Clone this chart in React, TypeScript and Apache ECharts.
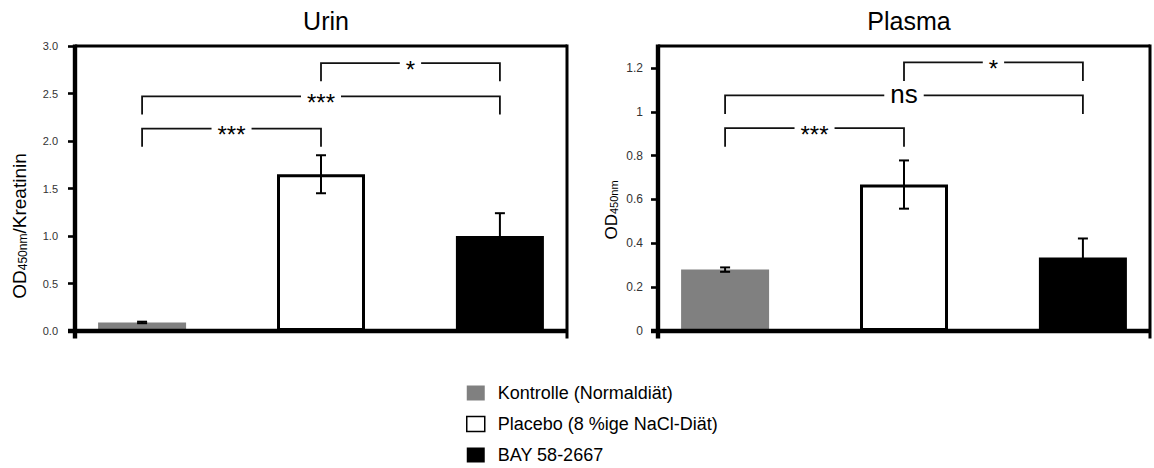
import React, { useEffect, useRef } from 'react';
import * as echarts from 'echarts';

const FONT = '"Liberation Sans", Arial, Helvetica, sans-serif';

const groups = ['Kontrolle (Normaldiät)', 'Placebo (8 %ige NaCl-Diät)', 'BAY 58-2667'];
const groupPositions = [0, 1, 2];

const urinMeans = [0.09, 1.65, 1.0];
const urinErrors = [0.008, 0.2, 0.24];
const urinTicks = [0, 0.5, 1, 1.5, 2, 2.5, 3];
const urinBrackets = [
  [0, 1, 2.13, 1.94],
  [0, 2, 2.47, 2.28],
  [1, 2, 2.82, 2.63],
];
const urinBracketLabels = ['***', '***', '*'];

const plasmaMeans = [0.28, 0.668, 0.335];
const plasmaErrors = [0.01, 0.11, 0.087];
const plasmaTicks = [0, 0.2, 0.4, 0.6, 0.8, 1, 1.2];
const plasmaBrackets = [
  [0, 1, 0.925, 0.84],
  [0, 2, 1.075, 0.99],
  [1, 2, 1.225, 1.14],
];
const plasmaBracketLabels = ['***', 'ns', '*'];

const X_MIN = -0.375;
const X_MAX = 2.375;

const barStyles = [
  { color: '#808080' },
  { color: '#ffffff', borderColor: '#000', borderWidth: 3 },
  { color: '#000000' },
];
const legendStyles = [
  { color: '#808080' },
  { color: '#ffffff', borderColor: '#000', borderWidth: 1.5 },
  { color: '#000000' },
];

function frameSeries(gi: number) {
  return {
    type: 'custom',
    xAxisIndex: gi,
    yAxisIndex: gi,
    z: 8,
    silent: true,
    data: [[0, 0]],
    renderItem: (params: any, api: any) => {
      const cs = params.coordSys;
      const x0 = cs.x;
      const y0 = cs.y;
      const x1 = cs.x + cs.width;
      const y1 = cs.y + cs.height;
      return {
        type: 'group',
        children: [
          { type: 'rect', shape: { x: x0, y: y0 - 1.5, width: x1 - x0, height: 3 }, style: { fill: '#000' } },
          { type: 'rect', shape: { x: x1 - 1.5, y: y0 - 1.5, width: 3, height: y1 - y0 + 9 }, style: { fill: '#000' } },
          { type: 'rect', shape: { x: x0 - 2.2, y: y0 - 1.5, width: 4.4, height: y1 - y0 + 9 }, style: { fill: '#000' } },
          { type: 'rect', shape: { x: x0 - 7, y: y1 - 2.2, width: x1 - x0 + 7, height: 4.4 }, style: { fill: '#000' } },
        ],
      };
    },
  };
}

function errorSeries(gi: number, means: number[], errs: number[]) {
  return {
    type: 'custom',
    xAxisIndex: gi,
    yAxisIndex: gi,
    z: 5,
    silent: true,
    data: groupPositions.map((p, i) => [p, means[i], errs[i]]),
    renderItem: (params: any, api: any) => {
      const x = api.value(0);
      const m = api.value(1);
      const e = api.value(2);
      const top = api.coord([x, m + e]);
      const bot = api.coord([x, m - e]);
      const hw = 5;
      const st = { stroke: '#000', lineWidth: 2, fill: null };
      return {
        type: 'group',
        children: [
          { type: 'line', shape: { x1: top[0], y1: top[1], x2: bot[0], y2: bot[1] }, style: st },
          { type: 'line', shape: { x1: top[0] - hw, y1: top[1], x2: top[0] + hw, y2: top[1] }, style: st },
          { type: 'line', shape: { x1: bot[0] - hw, y1: bot[1], x2: bot[0] + hw, y2: bot[1] }, style: st },
        ],
      };
    },
  };
}

function bracketSeries(gi: number, brackets: number[][], labels: string[]) {
  return {
    type: 'custom',
    xAxisIndex: gi,
    yAxisIndex: gi,
    z: 6,
    silent: true,
    data: brackets,
    renderItem: (params: any, api: any) => {
      const x1 = api.value(0);
      const x2 = api.value(1);
      const yl = api.value(2);
      const yg = api.value(3);
      const a = api.coord([x1, yg]);
      const b = api.coord([x1, yl]);
      const c = api.coord([x2, yl]);
      const d = api.coord([x2, yg]);
      const label = labels[params.dataIndex];
      const isNs = label === 'ns';
      const fs = isNs ? 26 : 24;
      const dy = isNs ? -1 : 6;
      return {
        type: 'group',
        children: [
          {
            type: 'polyline',
            shape: { points: [a, b, c, d] },
            style: { stroke: '#111', lineWidth: 1.8, fill: null },
          },
          {
            type: 'text',
            x: (b[0] + c[0]) / 2,
            y: b[1] + dy,
            style: {
              text: label,
              fontSize: fs,
              fontFamily: FONT,
              fill: '#000',
              textAlign: 'center',
              textVerticalAlign: 'middle',
              backgroundColor: '#fff',
              padding: [0, 6, 0, 6],
            },
          },
        ],
      };
    },
  };
}

function barSeries(gi: number, means: number[]) {
  return groups.map((name, i) => ({
    type: 'bar',
    name,
    xAxisIndex: gi,
    yAxisIndex: gi,
    barWidth: 88,
    barGap: '-100%',
    data: [[groupPositions[i], means[i]]],
    itemStyle: barStyles[i],
    z: 2,
  }));
}

function xAxis(gi: number) {
  return {
    type: 'value',
    gridIndex: gi,
    min: X_MIN,
    max: X_MAX,
    axisLine: { show: false, onZero: false },
    axisTick: { show: false },
    axisLabel: { show: false },
    splitLine: { show: false },
  };
}

function yAxis(gi: number, max: number, interval: number, ticks: number[], fmt: (v: number) => string, fs: number, margin: number) {
  return {
    type: 'value',
    gridIndex: gi,
    min: 0,
    max,
    interval,
    axisLine: { show: false, onZero: false },
    axisTick: { show: true, customValues: ticks, length: 7, lineStyle: { color: '#000', width: 2.6 } },
    axisLabel: {
      customValues: ticks,
      formatter: fmt,
      fontSize: fs,
      color: '#333',
      margin,
      fontFamily: FONT,
    },
    splitLine: { show: false },
  };
}

export default function App() {
  const ref = useRef<HTMLDivElement>(null);

  useEffect(() => {
    if (!ref.current) return;
    const chart = echarts.init(ref.current, null, { renderer: 'svg' });
    const option: any = {
      animation: false,
      backgroundColor: '#fff',
      title: [
        { text: 'Urin', left: 321, top: 3, textAlign: 'center', textStyle: { fontSize: 25, fontWeight: 'normal', color: '#000', fontFamily: FONT } },
        { text: 'Plasma', left: 904, top: 3, textAlign: 'center', textStyle: { fontSize: 25, fontWeight: 'normal', color: '#000', fontFamily: FONT } },
      ],
      grid: [
        { left: 75, top: 46, width: 492, height: 285, show: false },
        { left: 658, top: 46, width: 492, height: 285, show: false },
      ],
      xAxis: [xAxis(0), xAxis(1)],
      yAxis: [
        yAxis(0, 3, 0.5, urinTicks, (v: number) => v.toFixed(1), 11, 17),
        yAxis(1, 1.3, 0.2, plasmaTicks, (v: number) => String(Math.round(v * 10) / 10), 12, 15),
      ],
      legend: {
        orient: 'vertical',
        left: 466,
        top: 384,
        padding: 0,
        height: 84,
        itemWidth: 18,
        itemHeight: 15,
        itemGap: 13,
        selectedMode: false,
        icon: 'rect',
        textStyle: { fontSize: 18, color: '#000', fontFamily: FONT, padding: [0, 0, 0, 8] },
        data: groups.map((name, i) => ({ name, itemStyle: legendStyles[i] })),
      },
      graphic: [
        {
          type: 'text',
          x: 19,
          y: 226,
          rotation: Math.PI / 2,
          style: {
            text: '{a|OD}{b|450nm}{a|/Kreatinin}',
            rich: {
              a: { fontSize: 19, fontFamily: FONT, fill: '#000', verticalAlign: 'bottom' },
              b: { fontSize: 12, fontFamily: FONT, fill: '#000', verticalAlign: 'bottom' },
            },
            textAlign: 'center',
            textVerticalAlign: 'middle',
          },
        },
        {
          type: 'text',
          x: 611,
          y: 210,
          rotation: Math.PI / 2,
          style: {
            text: '{a|OD}{b|450nm}',
            rich: {
              a: { fontSize: 17, fontFamily: FONT, fill: '#000', verticalAlign: 'bottom' },
              b: { fontSize: 11, fontFamily: FONT, fill: '#000', verticalAlign: 'bottom' },
            },
            textAlign: 'center',
            textVerticalAlign: 'middle',
          },
        },
      ],
      series: [
        ...barSeries(0, urinMeans),
        ...barSeries(1, plasmaMeans),
        errorSeries(0, urinMeans, urinErrors),
        errorSeries(1, plasmaMeans, plasmaErrors),
        bracketSeries(0, urinBrackets, urinBracketLabels),
        bracketSeries(1, plasmaBrackets, plasmaBracketLabels),
        frameSeries(0),
        frameSeries(1),
      ],
    };
    chart.setOption(option);
    return () => chart.dispose();
  }, []);

  return (
    <div
      ref={ref}
      style={{ position: 'fixed', left: 0, top: 0, width: 1154, height: 468, background: '#fff' }}
    />
  );
}
